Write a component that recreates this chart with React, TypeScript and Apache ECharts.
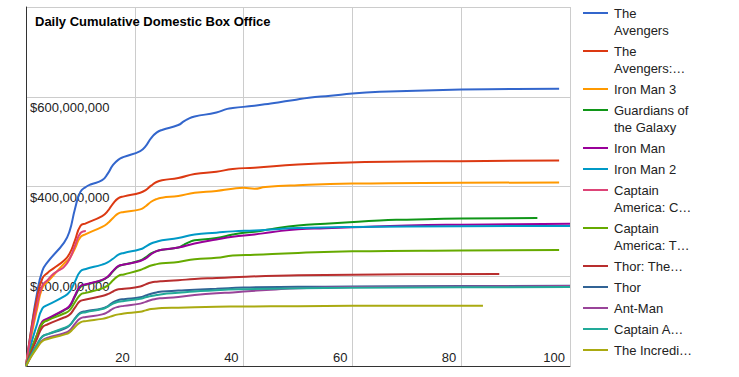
import React, { useEffect, useRef } from "react";
import * as echarts from "echarts";

// Values in millions of US dollars, keyed by day of release
const avengers: [number, number][] = [[0,0],[1,85],[2,160],[3,212],[4,232],[7,275],[8,300],[9,350],[10,388],[11,399],[12,405],[14,414],[15,428],[16,448],[17,460],[18,466],[21,479],[22,490],[23,508],[24,520],[25,526],[28,537],[29,545],[30,552],[31,556],[35,565],[37,573],[38,575],[42,580],[45,585],[49,592],[52,598],[56,602],[60,607],[65,611],[70,613],[80,616],[90,617.5],[98,618]];
const ultron: [number, number][] = [[0,0],[1,84],[2,150],[3,195],[4,208],[5,217],[7,235],[8,250],[9,280],[10,312],[11,318],[14,334],[15,345],[16,362],[17,374],[18,378],[21,386],[22,392],[23,402],[24,410],[25,414],[28,419],[31,428],[35,433],[38,439],[42,442],[50,449],[58,453],[70,455.5],[80,456.5],[98,458]];
const ironMan3: [number, number][] = [[0,0],[1,68],[2,125],[3,174],[4,188],[7,228],[8,240],[9,262],[10,287],[11,294],[14,310],[15,318],[16,330],[17,340],[18,343],[21,349],[22,356],[23,366],[24,372],[25,375],[28,379],[31,386],[35,390],[38,395],[40,397],[42,395],[44,399],[50,403],[60,406.5],[80,408.3],[98,409]];
const guardians: [number, number][] = [[0,0],[1,38],[2,66],[3,94],[4,103],[7,124],[8,132],[9,155],[10,176],[11,181],[14,191],[15,198],[16,211],[17,222],[18,226],[21,235],[22,242],[23,251],[24,256],[25,259],[28,264],[29,270],[30,276],[31,280],[35,285],[38,293],[40,297],[42,299],[45,305],[50,313],[55,317],[58,319],[65,324.5],[70,326],[80,328.5],[94,330]];
const ironMan: [number, number][] = [[0,0],[1,35],[2,69],[3,99],[4,106],[7,125],[8,134],[9,157],[10,178],[11,182],[14,192],[15,199],[16,212],[17,223],[18,226],[21,234],[22,240],[23,249],[24,256],[25,259],[28,264],[31,273],[35,282],[38,288],[42,293],[45,298],[50,305],[55,307],[60,309],[70,313],[80,315],[90,316],[100,317]];
const ironMan2: [number, number][] = [[0,0],[1,51],[2,92],[3,128],[4,136],[7,155],[8,165],[9,188],[10,211],[11,216],[14,226],[15,231],[16,239],[17,248],[18,252],[21,260],[22,266],[23,273],[24,277],[25,280],[28,285],[31,293],[35,297],[38,300],[42,302],[45,304],[50,307.5],[60,310],[80,311.5],[100,312]];
const civilWar: [number, number][] = [[0,0],[1,76],[2,135],[3,179],[4,192],[5,205],[6,213],[7,221],[8,238],[9,268],[10,296],[11,301]];
const winterSoldier: [number, number][] = [[0,0],[1,37],[2,69],[3,95],[4,102],[7,117],[8,124],[9,142],[10,159],[11,163],[14,173],[15,179],[16,191],[17,201],[18,204],[21,214],[22,219],[23,224],[24,227],[25,229],[28,232],[31,238],[35,241],[38,246],[42,248],[50,252],[60,255.5],[80,257.5],[98,258.5]];
const darkWorld: [number, number][] = [[0,0],[1,32],[2,60],[3,86],[4,93],[7,108],[8,114],[9,130],[10,145],[11,148],[14,156],[15,160],[16,166],[17,171],[18,172],[21,177],[22,182],[23,186],[24,188],[25,189],[28,191],[31,194],[35,196],[38,197.5],[44,200.5],[50,202],[60,203.5],[70,204.2],[87,205]];
const thor: [number, number][] = [[0,0],[1,25.5],[2,47],[3,66],[4,71],[7,83],[8,90],[9,106],[10,119],[11,122],[14,128],[15,133],[16,142],[17,147],[18,149],[21,153],[22,157],[23,161],[24,164],[25,166],[28,168],[31,170],[35,172],[40,175],[50,176.5],[60,177],[80,178],[100,179]];
const antMan: [number, number][] = [[0,0],[1,22.6],[2,42],[3,57],[4,63],[7,73],[8,79],[9,94],[10,106],[11,109],[14,115],[15,120],[16,128],[17,132],[18,134],[21,139],[22,143],[23,147],[24,150],[25,151],[28,154],[31,158],[35,162],[38,164],[40,166],[45,170],[50,173.5],[60,176],[80,177],[100,178]];
const firstAvenger: [number, number][] = [[0,0],[1,25.7],[2,47],[3,65],[4,71],[7,85],[8,91],[9,105],[10,117],[11,120],[14,127],[15,132],[16,139],[17,143],[18,145],[21,150],[22,153],[23,156],[24,158],[25,160],[28,163],[31,166],[35,169],[40,171],[50,173],[60,174.5],[80,175.5],[100,176]];
const hulk: [number, number][] = [[0,0],[1,21.5],[2,40],[3,55],[4,60],[7,70],[8,75],[9,87],[10,97],[11,100],[14,105],[15,108],[16,112],[17,115],[18,117],[21,121],[22,124],[23,127],[24,128],[25,129],[28,130],[31,131],[35,132],[40,132.6],[50,133.3],[60,134],[70,134.3],[84,134.5]];

const seriesNames = [
  "The Avengers",
  "The Avengers: Age of Ultron",
  "Iron Man 3",
  "Guardians of the Galaxy",
  "Iron Man",
  "Iron Man 2",
  "Captain America: Civil War",
  "Captain America: The Winter Soldier",
  "Thor: The Dark World",
  "Thor",
  "Ant-Man",
  "Captain America: The First Avenger",
  "The Incredible Hulk",
];
const legendLabels = [
  "The\nAvengers",
  "The\nAvengers:…",
  "Iron Man 3",
  "Guardians of\nthe Galaxy",
  "Iron Man",
  "Iron Man 2",
  "Captain\nAmerica: C…",
  "Captain\nAmerica: T…",
  "Thor: The…",
  "Thor",
  "Ant-Man",
  "Captain A…",
  "The Incredi…",
];
const seriesData = [avengers, ultron, ironMan3, guardians, ironMan, ironMan2, civilWar, winterSoldier, darkWorld, thor, antMan, firstAvenger, hulk];
const colors = ["#3366cc", "#dc3912", "#ff9900", "#109618", "#990099", "#0099c6", "#dd4477", "#66aa00", "#b82e2e", "#316395", "#994499", "#22aa99", "#aaaa11"];

const titleText = "Daily Cumulative Domestic Box Office";
const FONT = 'Arial, "Liberation Sans", sans-serif';

export default function App() {
  const ref = useRef<HTMLDivElement>(null);
  useEffect(() => {
    if (!ref.current) return;
    const chart = echarts.init(ref.current, undefined, { renderer: "svg" });

    const legendGraphics: any[] = [];
    let extra = 0;
    legendLabels.forEach((label, i) => {
      const y = 13 + 21 * i + 17 * extra;
      legendGraphics.push({
        type: "line",
        shape: { x1: 583, y1: y, x2: 608, y2: y },
        style: { stroke: colors[i], lineWidth: 2 },
      });
      legendGraphics.push({
        type: "text",
        x: 614,
        y: y - 8.5,
        style: {
          text: label,
          fontSize: 13,
          fontFamily: FONT,
          fill: "#222",
          lineHeight: 17,
          verticalAlign: "top",
          align: "left",
        },
      });
      extra += label.split("\n").length - 1;
    });

    chart.setOption({
      animation: false,
      color: colors,
      title: {
        text: titleText,
        left: 35,
        top: 15,
        padding: 0,
        textStyle: { fontSize: 13, fontWeight: "bold", fontFamily: FONT, color: "#000" },
      },
      grid: { left: 26, right: 169, top: 7, bottom: 11, containLabel: false },
      xAxis: {
        type: "value",
        min: 0,
        max: 100,
        interval: 20,
        axisLine: { show: true, lineStyle: { color: "#333", width: 1 } },
        axisTick: { show: false },
        splitLine: { show: true, lineStyle: { color: "#ccc", width: 1 } },
        axisLabel: {
          inside: true,
          margin: 2,
          align: "right",
          padding: [0, 5, 0, 0],
          showMinLabel: false,
          fontSize: 13,
          fontFamily: FONT,
          color: "#222",
        },
      },
      yAxis: {
        type: "value",
        min: 0,
        max: 800,
        interval: 200,
        axisLine: { show: true, lineStyle: { color: "#333", width: 1 } },
        axisTick: { show: false },
        splitLine: { show: true, lineStyle: { color: "#ccc", width: 1 } },
        axisLabel: {
          inside: true,
          margin: 4,
          verticalAlign: "top",
          padding: [4, 0, 0, 0],
          showMinLabel: false,
          showMaxLabel: false,
          fontSize: 13,
          fontFamily: FONT,
          color: "#222",
          formatter: (v: number) => "$" + Math.round(v * 1e6).toLocaleString("en-US"),
        },
      },
      series: seriesData.map((d, i) => ({
        name: seriesNames[i],
        type: "line",
        data: d,
        showSymbol: false,
        smooth: 0.5,
        lineStyle: { width: 2, color: colors[i] },
        itemStyle: { color: colors[i] },
      })),
      graphic: legendGraphics,
    });
    return () => chart.dispose();
  }, []);
  return (
    <div
      ref={ref}
      style={{ position: "fixed", left: 0, top: 0, width: 739, height: 377, background: "#fff" }}
    />
  );
}
